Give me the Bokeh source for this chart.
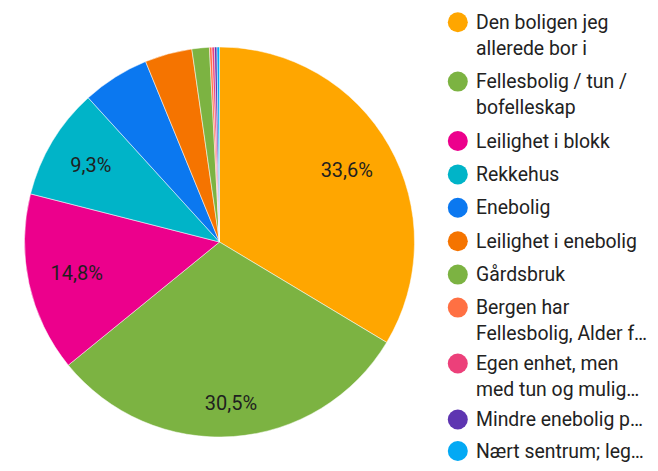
import math
from bokeh.plotting import figure
from bokeh.models import Range1d, ColumnDataSource
from bokeh.core.properties import value
from bokeh.embed import file_html
from bokeh.resources import INLINE

# ---- data ----
categories = [
    "Den boligen jeg allerede bor i",
    "Fellesbolig / tun / bofelleskap",
    "Leilighet i blokk",
    "Rekkehus",
    "Enebolig",
    "Leilighet i enebolig",
    "Gårdsbruk",
    "Bergen har Fellesbolig, Alder f…",
    "Egen enhet, men med tun og mulig…",
    "Mindre enebolig p…",
    "Nært sentrum; leg…",
]
counts = [163, 148, 72, 45, 27, 19, 7, 1, 1, 1, 1]
legend_lines = [
    ["Den boligen jeg", "allerede bor i"],
    ["Fellesbolig / tun /", "bofelleskap"],
    ["Leilighet i blokk"],
    ["Rekkehus"],
    ["Enebolig"],
    ["Leilighet i enebolig"],
    ["Gårdsbruk"],
    ["Bergen har", "Fellesbolig, Alder f…"],
    ["Egen enhet, men", "med tun og mulig…"],
    ["Mindre enebolig p…"],
    ["Nært sentrum; leg…"],
]
colors = ["#FFA600", "#7CB342", "#EC008C", "#00B4C8", "#0B78F0", "#F57400",
          "#7CB342", "#FF7043", "#EC407A", "#5E35B1", "#03A9F4"]

# ---- layout / style ----
W, H = 650, 463
CX, CY = 219, 241.5          # pie centre (pixels from top-left of canvas)
R = 195
label_radius = [0.75, 0.83, 0.75, 0.77]   # relative radius for slice labels
label_min_frac = 0.06
FONT = "Roboto"
TEXT_COLOR = "#222222"

def fy(y):
    return H - y

p = figure(width=W, height=H, output_backend="svg", toolbar_location=None,
           x_range=Range1d(0, W), y_range=Range1d(0, H), min_border=0)
p.axis.visible = False
p.xgrid.visible = False
p.ygrid.visible = False
p.outline_line_color = None
p.background_fill_color = "white"
p.border_fill_color = "white"

total = sum(counts)
fracs = [c / total for c in counts]
starts, ends = [], []
cum = 0.0
for f in fracs:
    starts.append(math.pi / 2 - cum * 2 * math.pi)
    cum += f
    ends.append(math.pi / 2 - cum * 2 * math.pi)

src = ColumnDataSource(dict(x=[CX] * len(counts), y=[fy(CY)] * len(counts),
                            start=starts, end=ends, color=colors))
p.wedge(x="x", y="y", radius=R, start_angle="start", end_angle="end",
        direction="clock", fill_color="color", line_color="white",
        line_width=0.5, source=src)

# slice percentage labels
lx, ly, lt = [], [], []
li = 0
cum = 0.0
for f in fracs:
    mid = cum + f / 2
    cum += f
    if f >= label_min_frac:
        rr = R * label_radius[li]
        li += 1
        ang = math.pi / 2 - mid * 2 * math.pi
        lx.append(CX + rr * math.cos(ang))
        ly.append(fy(CY) + rr * math.sin(ang))
        lt.append(f"{f * 100:.1f}%".replace(".", ","))
p.text(x=lx, y=ly, text=lt, text_font=value(FONT), text_font_size="20px",
       text_color="#1f1f1f", text_align="center", text_baseline="middle")

# legend
LEG_X_DOT = 457.3
LEG_X_TXT = 475.5
LEG_FONT = "19.4px"
y0 = 21.7
ITEM_STEP = 33.4
LINE_STEP = 26
Y_MAX = H - 12.5
SQUEEZE_FROM = 300

# standard item positions
item_y = []
y = y0
for lines in legend_lines:
    item_y.append(y)
    y += ITEM_STEP + LINE_STEP * (len(lines) - 1)
last_y = item_y[-1]
overflow = max(0.0, last_y - Y_MAX)
adj_y = [yy - (overflow * (yy - SQUEEZE_FROM) / (last_y - SQUEEZE_FROM)
               if yy > SQUEEZE_FROM else 0.0) for yy in item_y]

dot_x, dot_y, dot_c = [], [], []
tx, ty, tt = [], [], []
for lines, col, yy in zip(legend_lines, colors, adj_y):
    dot_x.append(LEG_X_DOT)
    dot_y.append(fy(yy))
    dot_c.append(col)
    for k, line in enumerate(lines):
        tx.append(LEG_X_TXT)
        ty.append(fy(yy + k * LINE_STEP))
        tt.append(line)

p.scatter(x=dot_x, y=dot_y, size=20, marker="circle", fill_color=dot_c,
          line_color=None)
p.text(x=tx, y=ty, text=tt, text_font=value(FONT), text_font_size=LEG_FONT,
       text_color=TEXT_COLOR, text_align="left", text_baseline="middle")

open("out.html", "w").write(file_html(p, INLINE))
